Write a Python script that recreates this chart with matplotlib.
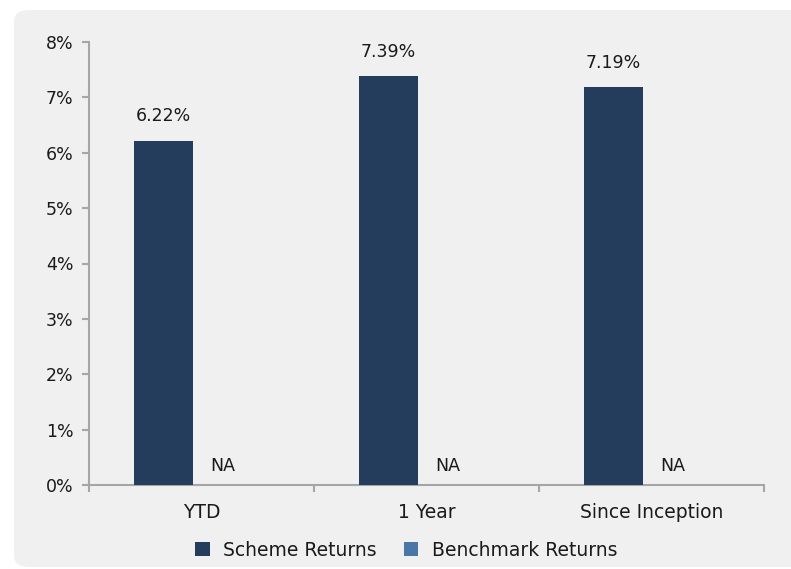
import numpy as np
import matplotlib
matplotlib.use('agg')
import matplotlib.pyplot as plt
from matplotlib.patches import FancyBboxPatch

categories = ['YTD', '1 Year', 'Since Inception']
scheme_returns = [6.22, 7.39, 7.19]
benchmark_returns = [None, None, None]  # not available -> "NA"
yticks = [0, 1, 2, 3, 4, 5, 6, 7, 8]

scheme_color = '#243d5c'
bench_color = '#4a76a8'
axis_color = '#a6a6a6'
text_color = '#1a1a1a'

plt.rcParams['font.family'] = ['DejaVu Sans']

W, H = 791, 569
fig = plt.figure(figsize=(W / 100, H / 100), dpi=100, facecolor='white')

# Grey rounded panel behind the chart
panel = FancyBboxPatch((14 / W, 2 / H), (W + 30 - 14) / W, (559 - 2) / H,
                       boxstyle='round,pad=0,rounding_size=0.02',
                       transform=fig.transFigure, facecolor='#f0f0f0',
                       edgecolor='none', zorder=-5)
fig.patches.append(panel)

ax = fig.add_axes([89 / W, 1 - 485 / H, (764 - 89) / W, (485 - 42) / H])
ax.set_facecolor('none')

x = np.arange(len(categories))
width = 0.265
shift = -0.036
scheme_x = x + shift - width / 2
bench_x = x + shift + width / 2

ax.bar(scheme_x, scheme_returns, width, color=scheme_color,
       label='Scheme Returns', zorder=3)
bench_vals = [0 if v is None else v for v in benchmark_returns]
ax.bar(bench_x, bench_vals, width, color=bench_color,
       label='Benchmark Returns', zorder=3)

for xi, v in zip(scheme_x, scheme_returns):
    ax.annotate('{:.2f}%'.format(v), (xi, v), xytext=(0, 11),
                textcoords='offset points', ha='center', va='bottom',
                fontsize=12.5, color=text_color)
for xi, v in zip(bench_x, benchmark_returns):
    label = 'NA' if v is None else '{:.2f}%'.format(v)
    ax.annotate(label, (xi, 0 if v is None else v), xytext=(0, 7),
                textcoords='offset points', ha='center', va='bottom',
                fontsize=12.5, color=text_color)

ax.set_xlim(-0.5, len(categories) - 0.5)
ax.set_ylim(0, 8)
ax.set_yticks(yticks)
ax.set_yticklabels(['{}%'.format(t) for t in yticks], fontsize=12.5,
                   color=text_color)
ax.set_xticks(x)
ax.set_xticklabels(categories, fontsize=13.5, color=text_color)
ax.set_xticks(np.arange(len(categories) + 1) - 0.5, minor=True)
ax.tick_params(axis='x', which='major', length=0, pad=13)
ax.tick_params(axis='x', which='minor', length=5, width=1.5,
               color=axis_color)
ax.tick_params(axis='y', length=5, width=1.5, color=axis_color, pad=6)

for side in ['top', 'right']:
    ax.spines[side].set_visible(False)
for side in ['left', 'bottom']:
    ax.spines[side].set_color(axis_color)
    ax.spines[side].set_linewidth(1.5)

ax.legend(loc='center', bbox_to_anchor=(0.47, -0.147), ncol=2,
          frameon=False, fontsize=13.5, handlelength=0.75, handleheight=0.75,
          handletextpad=0.7, columnspacing=1.5, labelcolor=text_color)

fig.savefig('out.png', dpi=100, facecolor=fig.get_facecolor())
